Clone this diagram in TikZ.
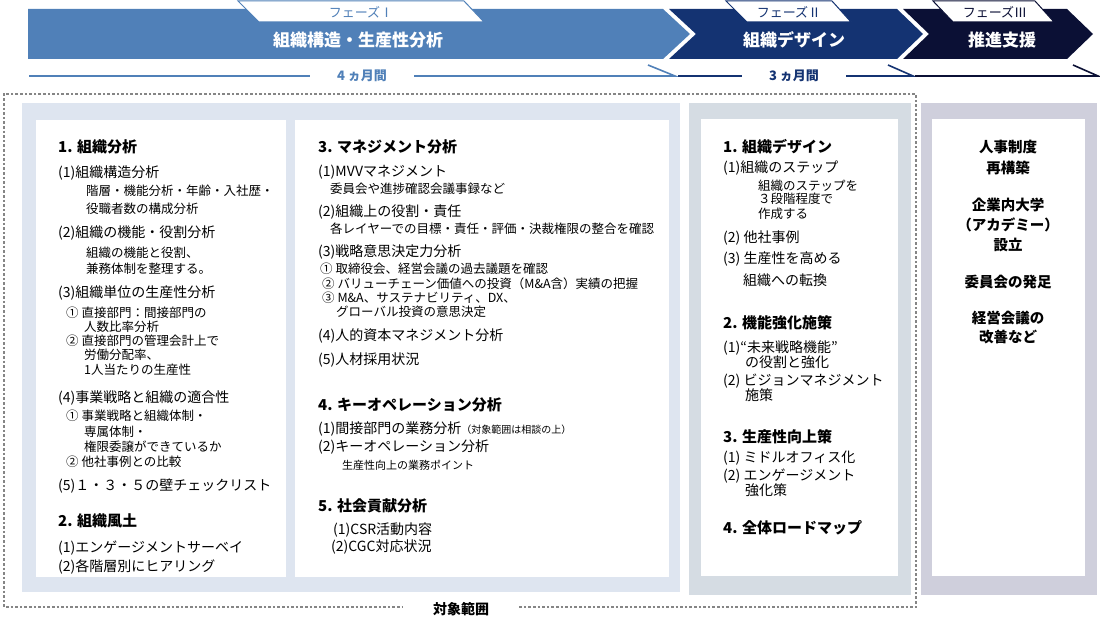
\documentclass[tikz,border=0pt]{standalone}
\usepackage{fontspec}
\setmainfont{Noto Sans CJK JP}
\definecolor{pone}{HTML}{5080B8}
\definecolor{ptwo}{HTML}{143372}
\definecolor{pthree}{HTML}{0B1035}
\definecolor{bgone}{HTML}{DEE5F0}
\definecolor{bgtwo}{HTML}{D5DCE3}
\definecolor{bgthree}{HTML}{CFCFDC}
\definecolor{dotgray}{HTML}{858585}
\newcommand\tx[5]{\node[#1] (#2) at (#3,#4) {#5};}
\begin{document}
\begin{tikzpicture}[x=1pt,y=-1pt,
  hd/.style={anchor=west,inner sep=0,font=\fontsize{15}{18}\selectfont\bfseries,text height=13pt,text depth=1.7pt},
  it/.style={anchor=west,inner sep=0,font=\fontsize{14}{17}\selectfont,text height=12.2pt,text depth=1.5pt},
  sb/.style={anchor=west,inner sep=0,font=\fontsize{12.5}{15}\selectfont,text height=10.9pt,text depth=1.4pt},
  sm/.style={anchor=west,inner sep=0,font=\fontsize{11}{13}\selectfont,text height=9.6pt,text depth=1.2pt},
  dd/.style={anchor=center,inner sep=0,font=\fontsize{14.5}{17}\selectfont\bfseries,text height=12.6pt,text depth=1.6pt},
  bar/.style={anchor=center,inner sep=0,text=white,font=\fontsize{17}{20}\selectfont\bfseries,text height=14.8pt,text depth=1.9pt},
  tab/.style={anchor=center,inner sep=0,font=\fontsize{13}{15}\selectfont,text height=11.3pt,text depth=1.4pt},
  dur/.style={anchor=center,inner ysep=0,inner xsep=27pt,font=\fontsize{13}{15}\selectfont\bfseries,text height=11.3pt,text depth=1.4pt},
  durline/.style={line width=1.6pt},
  dotline/.style={dotgray,line width=2.2pt,dash pattern=on 2.6pt off 2pt}
]
\useasboundingbox (0,0) rectangle (1100,634);
% ---------- header chevrons
\fill[pone] (28,9) -- (663,9) -- (690,34) -- (663,59) -- (28,59) -- cycle;
\fill[ptwo] (669,9) -- (897,9) -- (923,34) -- (897,59) -- (669,59) -- (696,34) -- cycle;
\fill[pthree] (903,9) -- (1067,9) -- (1093,34) -- (1067,59) -- (903,59) -- (929,34) -- cycle;
% tabs
\filldraw[fill=white,draw=pone,line width=1pt] (238,1) -- (464,1) -- (484,22) -- (259,22) -- cycle;
\filldraw[fill=white,draw=ptwo,line width=1pt] (726,1) -- (832,1) -- (851,22) -- (747,22) -- cycle;
\filldraw[fill=white,draw=pthree,line width=1pt] (933,1) -- (1035,1) -- (1054,22) -- (953,22) -- cycle;
\node[tab,text=pone] (tab1) at (361,12.5) {フェーズⅠ};
\node[tab,text=ptwo] (tab2) at (789,12.5) {フェーズⅡ};
\node[tab,text=pthree] (tab3) at (995,12.5) {フェーズⅢ};
\node[bar] (ph1) at (358,40) {組織構造・生産性分析};
\node[bar] (ph2) at (794,40) {組織デザイン};
\node[bar] (ph3) at (1002,40) {推進支援};
% duration lines
\node[dur,text=pone] (dur1) at (362,76) {4 ヵ月間};
\node[dur,text=ptwo] (dur2) at (794,76) {3 ヵ月間};
\coordinate (d1a) at (29,76); \coordinate (d1b) at (675,76); \coordinate (d1c) at (648,65);
\coordinate (d2a) at (678,76); \coordinate (d2b) at (913,76); \coordinate (d2c) at (888,65);
\coordinate (d3a) at (915,76); \coordinate (d3b) at (1098,76); \coordinate (d3c) at (1073,65);
\draw[durline,pone] (d1a) -- (dur1.west);
\draw[durline,pone] (dur1.east) -- (d1b) -- (d1c);
\draw[durline,ptwo] (d2a) -- (dur2.west);
\draw[durline,ptwo] (dur2.east) -- (d2b) -- (d2c);
\draw[durline,pthree] (d3a) -- (d3b) -- (d3c);
% ---------- panels
\fill[bgone] (22,103) rectangle (680,592);
\fill[bgtwo] (689,103) rectangle (911,595);
\fill[bgthree] (921,103) rectangle (1097,595);
\fill[white] (36,120) rectangle (286,577);
\fill[white] (295,120) rectangle (669,577);
\fill[white] (701,119) rectangle (898,576);
\fill[white] (932,119) rectangle (1085,576);
% ---------- dotted scope frame
\node[anchor=center,inner ysep=0,inner xsep=30pt,font=\fontsize{14}{17}\selectfont\bfseries,text height=12.2pt,text depth=1.5pt] (scope) at (461,609) {対象範囲};
\coordinate (fr1) at (916,607); \coordinate (fr2) at (916,94);
\coordinate (fr3) at (4,94); \coordinate (fr4) at (4,607);
\draw[dotline] (scope.east |- fr1) -- (fr1) -- (fr2) -- (fr3) -- (fr4) -- (scope.west |- fr4);
% ---------- box A
\tx{hd}{a1}{58}{147}{1. 組織分析}
\tx{it}{a2}{58}{172}{(1)組織構造分析}
\tx{sb}{a3}{86}{191}{階層・機能分析・年齢・入社歴・}
\tx{sb}{a4}{86}{209}{役職者数の構成分析}
\tx{it}{a5}{58}{232}{(2)組織の機能・役割分析}
\tx{sb}{a6}{86}{253}{組織の機能と役割、}
\tx{sb}{a7}{86}{269}{兼務体制を整理する。}
\tx{it}{a8}{58}{292}{(3)組織単位の生産性分析}
\tx{sb}{a9}{66}{313}{① 直接部門：間接部門の}
\tx{sb}{a10}{84}{327}{人数比率分析}
\tx{sb}{a11}{66}{341}{② 直接部門の管理会計上で}
\tx{sb}{a12}{84}{355}{労働分配率、}
\tx{sb}{a13}{84}{370}{1人当たりの生産性}
\tx{it}{a14}{58}{397}{(4)事業戦略と組織の適合性}
\tx{sb}{a15}{66}{416}{① 事業戦略と組織体制・}
\tx{sb}{a16}{84}{432}{専属体制・}
\tx{sb}{a17}{84}{447}{権限委譲ができているか}
\tx{sb}{a18}{66}{462}{② 他社事例との比較}
\tx{it}{a19}{58}{485}{(5)１・３・５の壁チェックリスト}
\tx{hd}{a20}{58}{521}{2. 組織風土}
\tx{it}{a21}{58}{547}{(1)エンゲージメントサーベイ}
\tx{it}{a22}{58}{566}{(2)各階層別にヒアリング}
% ---------- box B
\tx{hd}{b1}{318}{147}{3. マネジメント分析}
\tx{it}{b2}{318}{171}{(1)MVVマネジメント}
\tx{sb}{b3}{330}{189}{委員会や進捗確認会議事録など}
\tx{it}{b4}{318}{211}{(2)組織上の役割・責任}
\tx{sb}{b5}{330}{229}{各レイヤーでの目標・責任・評価・決裁権限の整合を確認}
\tx{it}{b6}{318}{251}{(3)戦略意思決定力分析}
\tx{sb}{b7}{320}{269}{① 取締役会、経営会議の過去議題を確認}
\tx{sb}{b8}{322}{284}{② バリューチェーン価値への投資（M\&A含）実績の把握}
\tx{sb}{b9}{322}{298}{③ M\&A、サステナビリティ、DX、}
\tx{sb}{b10}{336}{312}{グローバル投資の意思決定}
\tx{it}{b11}{318}{335}{(4)人的資本マネジメント分析}
\tx{it}{b12}{318}{359}{(5)人材採用状況}
\tx{hd}{b13}{318}{405}{4. キーオペレーション分析}
\tx{it}{b14}{318}{428}{(1)間接部門の業務分析{\fontsize{10}{12}\selectfont（対象範囲は相談の上）}}
\tx{it}{b15}{318}{446}{(2)キーオペレーション分析}
\tx{sm}{b16}{342}{465}{生産性向上の業務ポイント}
\tx{hd}{b17}{318}{506}{5. 社会貢献分析}
\tx{it}{b18}{333}{529}{(1)CSR活動内容}
\tx{it}{b19}{331}{546}{(2)CGC対応状況}
% ---------- box C
\tx{hd}{c1}{723}{147}{1. 組織デザイン}
\tx{it}{c2}{723}{167}{(1)組織のステップ}
\tx{sb}{c3}{758}{186}{組織のステップを}
\tx{sb}{c4}{758}{199}{３段階程度で}
\tx{sb}{c5}{758}{214}{作成する}
\tx{it}{c6}{723}{237}{(2) 他社事例}
\tx{it}{c7}{723}{258}{(3) 生産性を高める}
\tx{it}{c8}{743}{280}{組織への転換}
\tx{hd}{c9}{723}{323}{2. 機能強化施策}
\tx{it}{c10}{723}{347}{(1)“未来戦略機能”}
\tx{it}{c11}{745}{362}{の役割と強化}
\tx{it}{c12}{723}{380}{(2) ビジョンマネジメント}
\tx{it}{c13}{745}{395}{施策}
\tx{hd}{c14}{723}{437}{3. 生産性向上策}
\tx{it}{c15}{723}{457}{(1) ミドルオフィス化}
\tx{it}{c16}{723}{475}{(2) エンゲージメント}
\tx{it}{c17}{745}{490}{強化策}
\tx{hd}{c18}{723}{528}{4. 全体ロードマップ}
% ---------- box D
\tx{dd}{d1}{1008}{147}{人事制度}
\tx{dd}{d2}{1008}{168}{再構築}
\tx{dd}{d3}{1008}{205}{企業内大学}
\tx{dd}{d4}{1008}{225}{（アカデミー）}
\tx{dd}{d5}{1008}{245}{設立}
\tx{dd}{d6}{1008}{282}{委員会の発足}
\tx{dd}{d7}{1008}{318}{経営会議の}
\tx{dd}{d8}{1008}{337}{改善など}
\end{tikzpicture}
\end{document}
